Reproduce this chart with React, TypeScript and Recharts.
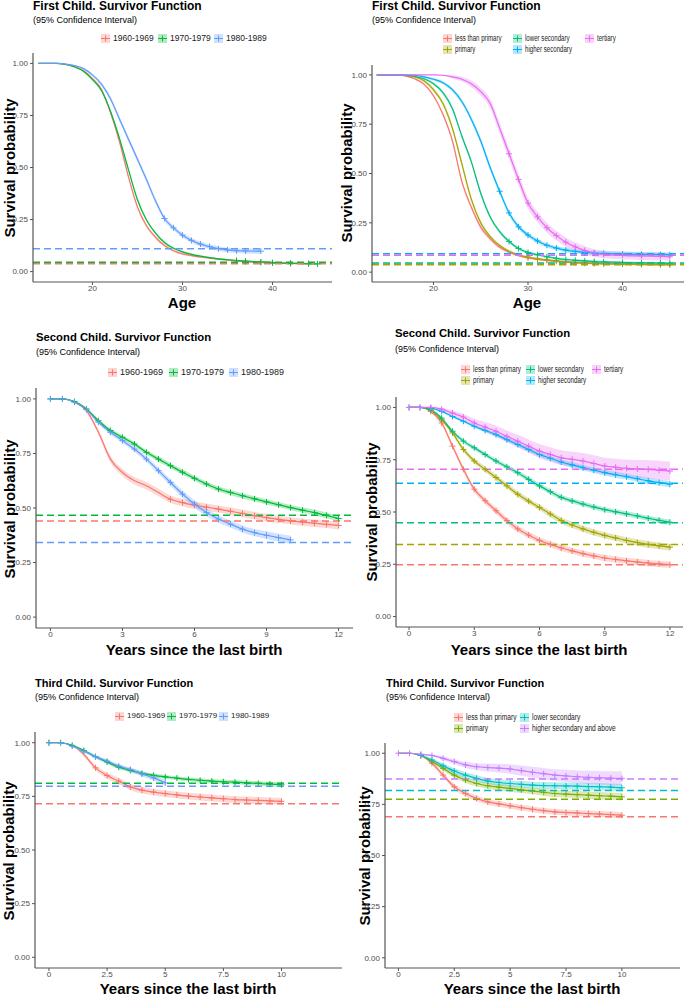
import React from 'react';
import { ComposedChart, Line, Area, XAxis, YAxis, ReferenceLine } from 'recharts';

const FONT = '"Liberation Sans", Arial, sans-serif';

// ggplot hue palettes
const cohortColors = ['#F8766D', '#00BA38', '#619CFF'];
const edu5Colors = ['#F8766D', '#A3A500', '#00BF7D', '#00B0F6', '#E76BF3'];
const edu4Colors = ['#F8766D', '#7CAE00', '#00BFC4', '#C77CFF'];

const cohortNames = ['1960-1969', '1970-1979', '1980-1989'];
const edu5Names = ['less than primary', 'primary', 'lower secondary', 'higher secondary', 'tertiary'];
const edu4Names = ['less than primary', 'primary', 'lower secondary', 'higher secondary and above'];

const ageTicks = [20, 30, 40];
const yearTicks12 = [0, 3, 6, 9, 12];
const yearTicks10 = [0, 2.5, 5, 7.5, 10];
const survTicks = [0, 0.25, 0.5, 0.75, 1];

// ---- first child, by cohort ----
const p1Age = [14, 16, 17, 18, 19, 20, 21, 22, 23, 24, 25, 26, 27, 28, 29, 30, 31, 32, 33, 34, 35, 36, 37, 38.7, 40, 42, 44, 45];
const p1S1960 = [1, 1, 0.995, 0.985, 0.965, 0.927, 0.875, 0.765, 0.625, 0.455, 0.31, 0.22, 0.165, 0.125, 0.1, 0.085, 0.077, 0.07, 0.065, 0.06, 0.056, 0.052, 0.048, 0.044, 0.041, 0.039, 0.038, null];
const p1S1970 = [1, 1, 0.995, 0.983, 0.962, 0.922, 0.87, 0.77, 0.64, 0.49, 0.345, 0.248, 0.185, 0.14, 0.112, 0.095, 0.083, 0.074, 0.067, 0.061, 0.057, 0.053, 0.05, 0.046, 0.043, 0.04, 0.038, 0.037];
const p1S1980 = [1, 1, 0.997, 0.99, 0.975, 0.945, 0.9, 0.83, 0.733, 0.636, 0.54, 0.442, 0.34, 0.255, 0.21, 0.175, 0.15, 0.132, 0.12, 0.11, 0.104, 0.1, 0.099, 0.098, null, null, null, null];
const p1Ci1960 = [0, 0, 0.002, 0.003, 0.004, 0.006, 0.008, 0.01, 0.011, 0.011, 0.01, 0.009, 0.008, 0.007, 0.006, 0.006, 0.005, 0.005, 0.005, 0.005, 0.005, 0.005, 0.005, 0.005, 0.005, 0.005, 0.005, 0.005];
const p1Ci1970 = [0, 0, 0.002, 0.003, 0.004, 0.005, 0.007, 0.008, 0.009, 0.009, 0.008, 0.007, 0.006, 0.006, 0.005, 0.005, 0.005, 0.004, 0.004, 0.004, 0.004, 0.004, 0.004, 0.004, 0.004, 0.004, 0.004, 0.004];
const p1Ci1980 = [0, 0, 0.002, 0.004, 0.005, 0.007, 0.009, 0.011, 0.012, 0.013, 0.013, 0.013, 0.013, 0.012, 0.012, 0.011, 0.011, 0.011, 0.011, 0.011, 0.011, 0.011, 0.012, 0.013, 0, 0, 0, 0];
const p1Median = [0.038, 0.045, 0.11];

// ---- first child, by education ----
const p2Age = [14, 16, 17, 18, 19, 20, 21, 22, 23, 24, 25, 26, 27, 28, 29, 30, 31, 32, 33, 34, 35, 36, 37, 38, 40, 42, 44, 45];
const p2SLess = [1, 1, 0.995, 0.98, 0.953, 0.894, 0.8, 0.666, 0.46, 0.33, 0.228, 0.169, 0.126, 0.101, 0.084, 0.073, 0.065, 0.059, 0.054, 0.05, 0.047, 0.045, 0.044, 0.043, 0.042, 0.04, 0.039, 0.039];
const p2SPrim = [1, 1, 0.997, 0.99, 0.97, 0.925, 0.855, 0.73, 0.55, 0.37, 0.25, 0.18, 0.135, 0.106, 0.088, 0.076, 0.068, 0.062, 0.057, 0.053, 0.05, 0.047, 0.045, 0.043, 0.041, 0.039, 0.038, 0.037];
const p2SLower = [1, 1, 0.998, 0.993, 0.98, 0.955, 0.91, 0.83, 0.69, 0.56, 0.4, 0.28, 0.205, 0.155, 0.12, 0.1, 0.088, 0.078, 0.07, 0.064, 0.06, 0.057, 0.054, 0.052, 0.049, 0.047, 0.046, 0.045];
const p2SHigher = [1, 1, 1, 0.998, 0.99, 0.978, 0.96, 0.925, 0.865, 0.775, 0.665, 0.53, 0.41, 0.3, 0.23, 0.188, 0.158, 0.136, 0.122, 0.112, 0.105, 0.1, 0.097, 0.095, 0.092, 0.09, 0.089, 0.088];
const p2STert = [1, 1, 1, 1, 1, 1, 0.998, 0.99, 0.978, 0.955, 0.915, 0.855, 0.73, 0.6, 0.47, 0.35, 0.28, 0.225, 0.185, 0.152, 0.128, 0.11, 0.097, 0.09, 0.085, 0.082, 0.08, 0.078];
const p2CiLess = [0, 0, 0.002, 0.004, 0.006, 0.008, 0.01, 0.012, 0.012, 0.011, 0.01, 0.009, 0.008, 0.007, 0.006, 0.006, 0.005, 0.005, 0.005, 0.005, 0.005, 0.005, 0.005, 0.005, 0.005, 0.005, 0.005, 0.005];
const p2CiPrim = [0, 0, 0.002, 0.004, 0.007, 0.01, 0.012, 0.014, 0.015, 0.014, 0.012, 0.01, 0.009, 0.008, 0.007, 0.006, 0.006, 0.006, 0.006, 0.006, 0.006, 0.006, 0.006, 0.006, 0.006, 0.006, 0.006, 0.006];
const p2CiLower = [0, 0, 0.001, 0.003, 0.005, 0.007, 0.009, 0.011, 0.012, 0.012, 0.012, 0.011, 0.01, 0.009, 0.008, 0.007, 0.006, 0.006, 0.006, 0.006, 0.006, 0.006, 0.006, 0.006, 0.006, 0.006, 0.006, 0.006];
const p2CiHigher = [0, 0, 0, 0.002, 0.004, 0.006, 0.008, 0.01, 0.012, 0.014, 0.015, 0.015, 0.015, 0.014, 0.013, 0.012, 0.011, 0.011, 0.011, 0.011, 0.011, 0.011, 0.011, 0.011, 0.011, 0.011, 0.011, 0.011];
const p2CiTert = [0, 0, 0, 0, 0, 0, 0.003, 0.008, 0.012, 0.016, 0.02, 0.024, 0.027, 0.028, 0.028, 0.027, 0.026, 0.025, 0.024, 0.023, 0.022, 0.021, 0.02, 0.02, 0.02, 0.02, 0.02, 0.02];
const p2Median = [0.04, 0.037, 0.046, 0.093, 0.085];

// ---- second child ----
const p3Years = [0, 0.5, 1, 1.5, 2, 2.5, 3, 3.5, 4, 4.5, 5, 5.5, 6, 6.5, 7, 7.5, 8, 8.5, 9, 9.5, 10, 10.5, 11, 11.5, 12];
const p3S1960 = [1, 1, 0.985, 0.946, 0.847, 0.724, 0.663, 0.625, 0.602, 0.571, 0.54, 0.525, 0.513, 0.504, 0.495, 0.485, 0.475, 0.465, 0.456, 0.448, 0.441, 0.435, 0.43, 0.425, 0.42];
const p3S1970 = [1, 1, 0.988, 0.954, 0.9, 0.855, 0.824, 0.793, 0.755, 0.724, 0.694, 0.664, 0.636, 0.61, 0.587, 0.571, 0.556, 0.542, 0.528, 0.515, 0.502, 0.49, 0.479, 0.466, 0.452];
const p3S1980 = [1, 1, 0.985, 0.951, 0.893, 0.847, 0.809, 0.77, 0.724, 0.671, 0.617, 0.564, 0.518, 0.479, 0.449, 0.426, 0.403, 0.387, 0.375, 0.364, 0.354, null, null, null, null];
const p3Ci1960 = [0, 0, 0.004, 0.008, 0.012, 0.015, 0.016, 0.017, 0.017, 0.017, 0.017, 0.017, 0.017, 0.017, 0.017, 0.017, 0.017, 0.017, 0.017, 0.017, 0.017, 0.017, 0.017, 0.017, 0.018];
const p3Ci1970 = [0, 0, 0.003, 0.006, 0.008, 0.009, 0.01, 0.011, 0.011, 0.012, 0.012, 0.012, 0.012, 0.012, 0.012, 0.012, 0.012, 0.012, 0.012, 0.012, 0.012, 0.012, 0.013, 0.013, 0.013];
const p3Ci1980 = [0, 0, 0.003, 0.006, 0.008, 0.01, 0.011, 0.012, 0.013, 0.014, 0.015, 0.016, 0.017, 0.017, 0.017, 0.017, 0.017, 0.017, 0.018, 0.018, 0.019, 0, 0, 0, 0];
const p3Median = [0.44, 0.467, 0.342];

const p4Years = [0, 0.5, 1, 1.5, 2, 2.5, 3, 3.5, 4, 4.5, 5, 5.5, 6, 6.5, 7, 7.5, 8, 8.5, 9, 9.5, 10, 10.5, 11, 11.5, 12];
const p4SLess = [1, 1, 0.981, 0.926, 0.815, 0.704, 0.609, 0.554, 0.506, 0.459, 0.419, 0.39, 0.364, 0.345, 0.328, 0.314, 0.301, 0.29, 0.28, 0.273, 0.266, 0.261, 0.256, 0.252, 0.248];
const p4SPrim = [1, 1, 0.986, 0.941, 0.878, 0.799, 0.744, 0.704, 0.665, 0.625, 0.585, 0.552, 0.522, 0.49, 0.459, 0.438, 0.419, 0.403, 0.388, 0.376, 0.364, 0.354, 0.345, 0.338, 0.332];
const p4SLower = [1, 1, 0.989, 0.949, 0.886, 0.839, 0.807, 0.775, 0.744, 0.716, 0.688, 0.656, 0.625, 0.597, 0.57, 0.553, 0.538, 0.524, 0.511, 0.501, 0.491, 0.481, 0.47, 0.46, 0.451];
const p4SHigher = [1, 1, 0.997, 0.981, 0.957, 0.934, 0.91, 0.89, 0.87, 0.846, 0.823, 0.799, 0.775, 0.757, 0.739, 0.725, 0.712, 0.7, 0.688, 0.678, 0.669, 0.659, 0.649, 0.641, 0.633];
const p4STert = [1, 1, 1, 0.992, 0.973, 0.954, 0.926, 0.906, 0.886, 0.862, 0.839, 0.815, 0.791, 0.775, 0.759, 0.752, 0.744, 0.732, 0.72, 0.714, 0.709, 0.706, 0.704, 0.7, 0.696];
const p4CiLess = [0, 0, 0.004, 0.008, 0.012, 0.014, 0.015, 0.015, 0.015, 0.015, 0.015, 0.015, 0.015, 0.015, 0.015, 0.015, 0.015, 0.015, 0.015, 0.015, 0.015, 0.015, 0.015, 0.015, 0.015];
const p4CiPrim = [0, 0, 0.003, 0.007, 0.01, 0.012, 0.013, 0.014, 0.014, 0.014, 0.014, 0.014, 0.014, 0.015, 0.015, 0.015, 0.015, 0.015, 0.015, 0.015, 0.015, 0.015, 0.016, 0.016, 0.016];
const p4CiLower = [0, 0, 0.002, 0.005, 0.008, 0.009, 0.01, 0.011, 0.011, 0.011, 0.012, 0.012, 0.012, 0.012, 0.012, 0.012, 0.012, 0.012, 0.012, 0.012, 0.012, 0.012, 0.012, 0.013, 0.013];
const p4CiHigher = [0, 0, 0.001, 0.003, 0.005, 0.006, 0.007, 0.008, 0.009, 0.01, 0.011, 0.011, 0.012, 0.012, 0.012, 0.013, 0.013, 0.013, 0.013, 0.014, 0.014, 0.014, 0.015, 0.015, 0.015];
const p4CiTert = [0, 0, 0, 0.006, 0.012, 0.016, 0.02, 0.024, 0.026, 0.028, 0.03, 0.032, 0.034, 0.035, 0.036, 0.037, 0.038, 0.039, 0.04, 0.041, 0.042, 0.043, 0.044, 0.045, 0.045];
const p4Median = [0.248, 0.345, 0.448, 0.638, 0.704];

// ---- third child ----
const p5Years = [0, 0.5, 1, 1.5, 2, 2.5, 3, 3.5, 4, 4.5, 5, 5.5, 6, 6.5, 7, 7.5, 8, 8.5, 9, 9.5, 10];
const p5S1960 = [1, 1, 0.988, 0.945, 0.883, 0.847, 0.821, 0.794, 0.779, 0.77, 0.763, 0.757, 0.751, 0.747, 0.743, 0.739, 0.735, 0.733, 0.731, 0.729, 0.727];
const p5S1970 = [1, 1, 0.988, 0.964, 0.935, 0.91, 0.886, 0.871, 0.857, 0.848, 0.841, 0.835, 0.829, 0.825, 0.821, 0.818, 0.816, 0.813, 0.81, 0.807, 0.804];
const p5S1980 = [1, 1, 0.984, 0.961, 0.935, 0.914, 0.891, 0.875, 0.855, 0.836, 0.813, null, null, null, null, null, null, null, null, null, null];
const p5Ci1960 = [0, 0, 0.004, 0.008, 0.012, 0.014, 0.015, 0.015, 0.016, 0.016, 0.016, 0.016, 0.016, 0.016, 0.016, 0.016, 0.016, 0.016, 0.016, 0.016, 0.016];
const p5Ci1970 = [0, 0, 0.003, 0.005, 0.007, 0.008, 0.009, 0.009, 0.009, 0.009, 0.009, 0.009, 0.009, 0.01, 0.01, 0.01, 0.01, 0.01, 0.011, 0.011, 0.011];
const p5Ci1980 = [0, 0, 0.003, 0.006, 0.008, 0.009, 0.01, 0.011, 0.012, 0.012, 0.013, 0, 0, 0, 0, 0, 0, 0, 0, 0, 0];
const p5Median = [0.716, 0.811, 0.797];

const p6Years = [0, 0.5, 1, 1.5, 2, 2.5, 3, 3.5, 4, 4.5, 5, 5.5, 6, 6.5, 7, 7.5, 8, 8.5, 9, 9.5, 10];
const p6SLess = [1, 1, 0.989, 0.951, 0.893, 0.836, 0.803, 0.779, 0.762, 0.752, 0.743, 0.734, 0.726, 0.719, 0.713, 0.71, 0.708, 0.705, 0.703, 0.7, 0.697];
const p6SPrim = [1, 1, 0.989, 0.959, 0.926, 0.893, 0.869, 0.852, 0.841, 0.834, 0.828, 0.821, 0.815, 0.809, 0.803, 0.8, 0.798, 0.795, 0.792, 0.79, 0.787];
const p6SLower = [1, 1, 0.989, 0.967, 0.939, 0.913, 0.893, 0.877, 0.864, 0.857, 0.852, 0.848, 0.844, 0.842, 0.841, 0.84, 0.839, 0.837, 0.836, 0.834, 0.831];
const p6SHigher = [1, 1, 0.995, 0.989, 0.975, 0.959, 0.943, 0.934, 0.93, 0.927, 0.923, 0.915, 0.907, 0.9, 0.893, 0.889, 0.885, 0.882, 0.88, 0.878, 0.877];
const p6CiLess = [0, 0, 0.004, 0.008, 0.011, 0.013, 0.014, 0.014, 0.014, 0.014, 0.014, 0.014, 0.014, 0.014, 0.014, 0.014, 0.014, 0.015, 0.015, 0.015, 0.015];
const p6CiPrim = [0, 0, 0.004, 0.008, 0.011, 0.013, 0.014, 0.015, 0.015, 0.016, 0.016, 0.016, 0.016, 0.017, 0.017, 0.017, 0.017, 0.017, 0.018, 0.018, 0.018];
const p6CiLower = [0, 0, 0.004, 0.008, 0.011, 0.013, 0.014, 0.015, 0.015, 0.016, 0.016, 0.016, 0.017, 0.017, 0.017, 0.017, 0.017, 0.018, 0.018, 0.018, 0.018];
const p6CiHigher = [0, 0, 0.003, 0.006, 0.009, 0.012, 0.015, 0.017, 0.019, 0.021, 0.023, 0.025, 0.027, 0.028, 0.029, 0.03, 0.031, 0.032, 0.033, 0.034, 0.035];
const p6Median = [0.689, 0.775, 0.818, 0.874];

type Panel = {
  title: string;
  titleSize: number;
  names: string[];
  colors: string[];
  grid: number[];
  surv: (number | null)[][];
  ci: number[][];
  censorFrom: number[];
  hline: number[];
  xDomain: [number, number];
  xTicks: number[];
  xTitle: string;
  plot: { x0: number; y0: number; x1: number; y1: number };
  titleAt: [number, number];
  subAt: number;
  yTitleAt: [number, number];
  xTitleAt: [number, number];
  legendCols: number[];
  legendRows: number[];
  legendSize: number;
  legendSqueeze: number;
};

const panels: Panel[] = [
  {
    title: 'First Child. Survivor Function', titleSize: 12,
    names: cohortNames, colors: cohortColors, grid: p1Age,
    surv: [p1S1960, p1S1970, p1S1980], ci: [p1Ci1960, p1Ci1970, p1Ci1980],
    censorFrom: [36, 36, 28], hline: p1Median,
    xDomain: [13.4, 46.6], xTicks: ageTicks, xTitle: 'Age',
    plot: { x0: 33, y0: 53, x1: 332, y1: 282 },
    titleAt: [33, 7], subAt: 21, yTitleAt: [10, 168], xTitleAt: [182, 302],
    legendCols: [101, 158, 214], legendRows: [38], legendSize: 8.5, legendSqueeze: 1,
  },
  {
    title: 'First Child. Survivor Function', titleSize: 12,
    names: edu5Names, colors: edu5Colors, grid: p2Age,
    surv: [p2SLess, p2SPrim, p2SLower, p2SHigher, p2STert],
    ci: [p2CiLess, p2CiPrim, p2CiLower, p2CiHigher, p2CiTert],
    censorFrom: [30, 30, 28, 27, 28], hline: p2Median,
    xDomain: [13.5, 46.5], xTicks: ageTicks, xTitle: 'Age',
    plot: { x0: 372, y0: 65, x1: 684, y1: 282 },
    titleAt: [372, 7], subAt: 21, yTitleAt: [347, 173], xTitleAt: [527, 302],
    legendCols: [443, 513, 585], legendRows: [38, 49], legendSize: 8.5, legendSqueeze: 0.72,
  },
  {
    title: 'Second Child. Survivor Function', titleSize: 11.3,
    names: cohortNames, colors: cohortColors, grid: p3Years,
    surv: [p3S1960, p3S1970, p3S1980], ci: [p3Ci1960, p3Ci1970, p3Ci1980],
    censorFrom: [5, 0, 0], hline: p3Median,
    xDomain: [-0.6, 12.6], xTicks: yearTicks12, xTitle: 'Years since the last birth',
    plot: { x0: 36, y0: 388, x1: 353, y1: 628 },
    titleAt: [36, 339], subAt: 353, yTitleAt: [10, 509], xTitleAt: [194, 649],
    legendCols: [108, 169, 229], legendRows: [372], legendSize: 9, legendSqueeze: 1,
  },
  {
    title: 'Second Child. Survivor Function', titleSize: 11.3,
    names: edu5Names, colors: edu5Colors, grid: p4Years,
    surv: [p4SLess, p4SPrim, p4SLower, p4SHigher, p4STert],
    ci: [p4CiLess, p4CiPrim, p4CiLower, p4CiHigher, p4CiTert],
    censorFrom: [1, 1, 1, 0, 0], hline: p4Median,
    xDomain: [-0.6, 12.6], xTicks: yearTicks12, xTitle: 'Years since the last birth',
    plot: { x0: 396, y0: 397, x1: 683, y1: 627 },
    titleAt: [395, 335], subAt: 350, yTitleAt: [372, 512], xTitleAt: [539, 649],
    legendCols: [461, 526, 592], legendRows: [369, 380], legendSize: 8.5, legendSqueeze: 0.74,
  },
  {
    title: 'Third Child. Survivor Function', titleSize: 11,
    names: cohortNames, colors: cohortColors, grid: p5Years,
    surv: [p5S1960, p5S1970, p5S1980], ci: [p5Ci1960, p5Ci1970, p5Ci1980],
    censorFrom: [2, 0, 0], hline: p5Median,
    xDomain: [-0.6, 12.6], xTicks: yearTicks10, xTitle: 'Years since the last birth',
    plot: { x0: 35, y0: 732, x1: 342, y1: 968 },
    titleAt: [35, 684], subAt: 698, yTitleAt: [9, 851], xTitleAt: [188, 988],
    legendCols: [115, 167, 219], legendRows: [716], legendSize: 8, legendSqueeze: 1,
  },
  {
    title: 'Third Child. Survivor Function', titleSize: 11,
    names: edu4Names, colors: edu4Colors, grid: p6Years,
    surv: [p6SLess, p6SPrim, p6SLower, p6SHigher],
    ci: [p6CiLess, p6CiPrim, p6CiLower, p6CiHigher],
    censorFrom: [1, 1, 1, 0], hline: p6Median,
    xDomain: [-0.6, 12.6], xTicks: yearTicks10, xTitle: 'Years since the last birth',
    plot: { x0: 385, y0: 743, x1: 680, y1: 968 },
    titleAt: [386, 684], subAt: 698, yTitleAt: [365, 856], xTitleAt: [532, 988],
    legendCols: [454, 520], legendRows: [717, 728], legendSize: 8.5, legendSqueeze: 0.78,
  },
];

const Y_AXIS_W = 30;
const X_AXIS_H = 20;

// "+" censoring marks, drawn from a given time onward
const crossDot = (color: string, from: number) => (props: any) => {
  const { cx, cy, payload, index } = props;
  if (cx == null || cy == null || payload == null || payload.x < from || props.value == null) {
    return <g key={`c-${index}`} />;
  }
  return (
    <path
      key={`c-${index}`}
      d={`M${cx - 3},${cy}h6M${cx},${cy - 3}v6`}
      stroke={color}
      strokeWidth={1}
      fill="none"
    />
  );
};

const LegendKey = ({ color }: { color: string }) => (
  <svg width={9} height={9} style={{ display: 'block', flex: 'none' }}>
    <rect x={0} y={0} width={9} height={9} fill={color} fillOpacity={0.3} />
    <line x1={0} y1={4.5} x2={9} y2={4.5} stroke={color} strokeWidth={1} />
    <line x1={4.5} y1={1.5} x2={4.5} y2={7.5} stroke={color} strokeWidth={1} />
  </svg>
);

const SurvPanel = ({ p }: { p: Panel }) => {
  const rows = p.grid.map((x, i) => {
    const r: Record<string, any> = { x };
    p.surv.forEach((s, k) => {
      const v = s[i];
      r[`s${k}`] = v == null ? null : v;
      r[`b${k}`] = v == null ? null : [v - p.ci[k][i], v + p.ci[k][i]];
    });
    return r;
  });
  const left = p.plot.x0 - Y_AXIS_W;
  const width = p.plot.x1 - left;
  const height = p.plot.y1 - p.plot.y0 + X_AXIS_H;
  const nRows = p.legendRows.length;

  return (
    <>
      <div style={{ position: 'absolute', left: p.titleAt[0], top: p.titleAt[1] - p.titleSize / 2 - 1, fontFamily: FONT, fontWeight: 'bold', fontSize: p.titleSize, lineHeight: 1, whiteSpace: 'nowrap', color: '#000' }}>
        {p.title}
      </div>
      <div style={{ position: 'absolute', left: p.titleAt[0], top: p.subAt - 5.5, fontFamily: FONT, fontSize: 9, lineHeight: 1, whiteSpace: 'nowrap', color: '#000' }}>
        (95% Confidence Interval)
      </div>

      {p.names.map((name, k) => {
        const col = Math.floor(k / nRows);
        const row = k % nRows;
        return (
          <div key={name} style={{ position: 'absolute', left: p.legendCols[col], top: p.legendRows[row] - 5, height: 10, display: 'flex', alignItems: 'center', gap: 3, whiteSpace: 'nowrap' }}>
            <LegendKey color={p.colors[k]} />
            <span style={{ display: 'inline-block', fontFamily: FONT, fontSize: p.legendSize, color: '#1a1a1a', lineHeight: 1, transform: `scaleX(${p.legendSqueeze})`, transformOrigin: 'left center' }}>{name}</span>
          </div>
        );
      })}

      <div style={{ position: 'absolute', left: p.yTitleAt[0] - 100, top: p.yTitleAt[1] - 8, width: 200, height: 16, textAlign: 'center', transform: 'rotate(-90deg)', fontFamily: FONT, fontWeight: 'bold', fontSize: 15, lineHeight: '16px', color: '#000', whiteSpace: 'nowrap' }}>
        Survival probability
      </div>
      <div style={{ position: 'absolute', left: p.xTitleAt[0] - 150, top: p.xTitleAt[1] - 7.5, width: 300, height: 15, textAlign: 'center', fontFamily: FONT, fontWeight: 'bold', fontSize: 15, lineHeight: '15px', color: '#000', whiteSpace: 'nowrap' }}>
        {p.xTitle}
      </div>

      <div style={{ position: 'absolute', left, top: p.plot.y0 }}>
        <ComposedChart width={width} height={height} data={rows} margin={{ top: 0, right: 0, bottom: 0, left: 0 }}>
          <XAxis
            dataKey="x"
            type="number"
            domain={p.xDomain}
            ticks={p.xTicks}
            allowDataOverflow
            height={X_AXIS_H}
            tickSize={3}
            tickMargin={0}
            axisLine={{ stroke: '#555', strokeWidth: 1.2 }}
            tickLine={{ stroke: '#555' }}
            tick={{ fontSize: 8, fill: '#4d4d4d', fontFamily: FONT }}
            interval={0}
          />
          <YAxis
            type="number"
            domain={[-0.05, 1.05]}
            ticks={survTicks}
            allowDataOverflow
            width={Y_AXIS_W}
            tickSize={3}
            tickMargin={2}
            tickFormatter={(v: number) => v.toFixed(2)}
            axisLine={{ stroke: '#555', strokeWidth: 1.2 }}
            tickLine={{ stroke: '#555' }}
            tick={{ fontSize: 8, fill: '#4d4d4d', fontFamily: FONT }}
            interval={0}
          />
          {p.surv.map((_, k) => (
            <Area
              key={`band-${k}`}
              dataKey={`b${k}`}
              type="monotone"
              stroke="none"
              fill={p.colors[k]}
              fillOpacity={0.28}
              isAnimationActive={false}
              connectNulls={false}
              activeDot={false}
            />
          ))}
          {p.surv.map((_, k) => (
            <Line
              key={`line-${k}`}
              dataKey={`s${k}`}
              type="monotone"
              stroke={p.colors[k]}
              strokeWidth={1.2}
              dot={crossDot(p.colors[k], p.censorFrom[k])}
              activeDot={false}
              isAnimationActive={false}
              connectNulls={false}
            />
          ))}
          {p.hline.map((h, k) => (
            <ReferenceLine
              key={`h-${k}`}
              y={h}
              stroke={p.colors[k]}
              strokeWidth={1.5}
              strokeDasharray="7 4"
              ifOverflow="visible"
            />
          ))}
        </ComposedChart>
      </div>
    </>
  );
};

export default function App() {
  return (
    <div style={{ position: 'absolute', left: 0, top: 0, width: 685, height: 995, background: '#fff', overflow: 'hidden' }}>
      {panels.map((p, i) => (
        <SurvPanel key={i} p={p} />
      ))}
    </div>
  );
}
